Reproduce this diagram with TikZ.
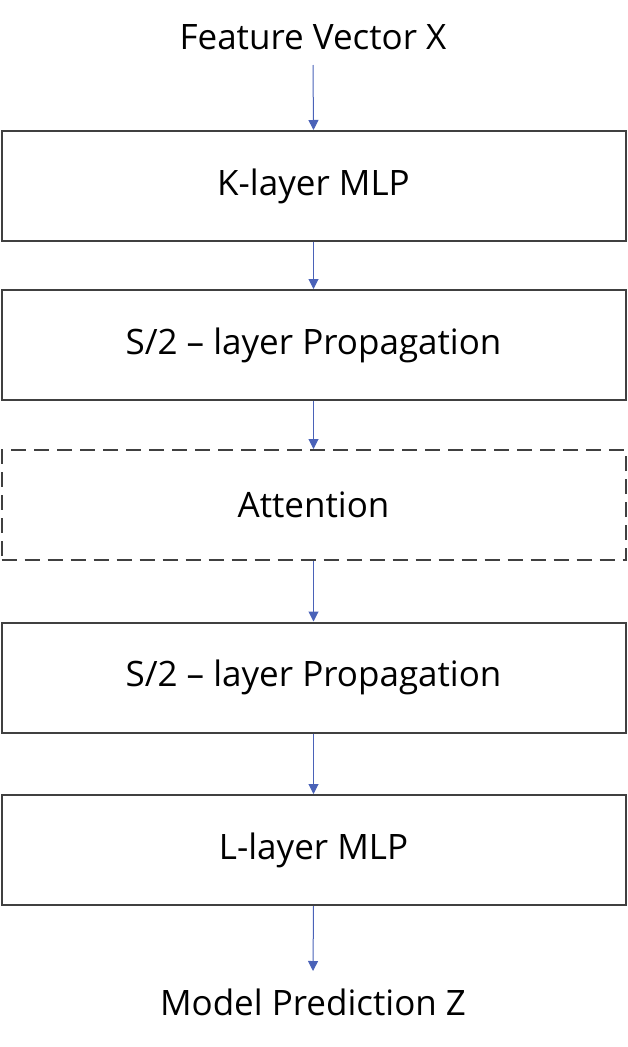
\documentclass[tikz,border=0pt]{standalone}
\usepackage{fontspec}
\setmainfont{Open Sans}
\usetikzlibrary{arrows.meta}
\definecolor{boxline}{HTML}{404040}
\definecolor{arrowblue}{HTML}{4A62B8}
\begin{document}
\begin{tikzpicture}[x=1pt,y=-1pt,
  box/.style={draw=boxline,line width=2pt,minimum width=624pt,minimum height=110pt,inner sep=0pt,font=\fontsize{35}{40}\selectfont},
  dbox/.style={box,dash pattern=on 15pt off 8pt},
  lbl/.style={font=\fontsize{35}{40}\selectfont,inner sep=0pt},
  arr/.style={draw=arrowblue,line width=1pt,-{Triangle[width=10pt,length=10pt]}}]
\useasboundingbox (0,0) rectangle (627,1047);
\node[lbl] (in) at (313,37) {Feature Vector X};
\node[box] (k) at (313.5,186) {K-layer MLP};
\node[box] (s1) at (313.5,345) {S/2 – layer Propagation};
\node[dbox] (att) at (313.5,505) {Attention};
\node[box] (s2) at (313.5,677.5) {S/2 – layer Propagation};
\node[box] (l) at (313.5,850) {L-layer MLP};
\node[lbl] (out) at (313,1002) {Model Prediction Z};
\coordinate (inb) at (313,65);
\coordinate (outt) at (313,971);
\draw[arr] (inb) -- (k.north);
\draw[arr] (k) -- (s1);
\draw[arr] (s1) -- (att);
\draw[arr] (att) -- (s2);
\draw[arr] (s2) -- (l);
\draw[arr] (l.south) -- (outt);
\end{tikzpicture}
\end{document}
